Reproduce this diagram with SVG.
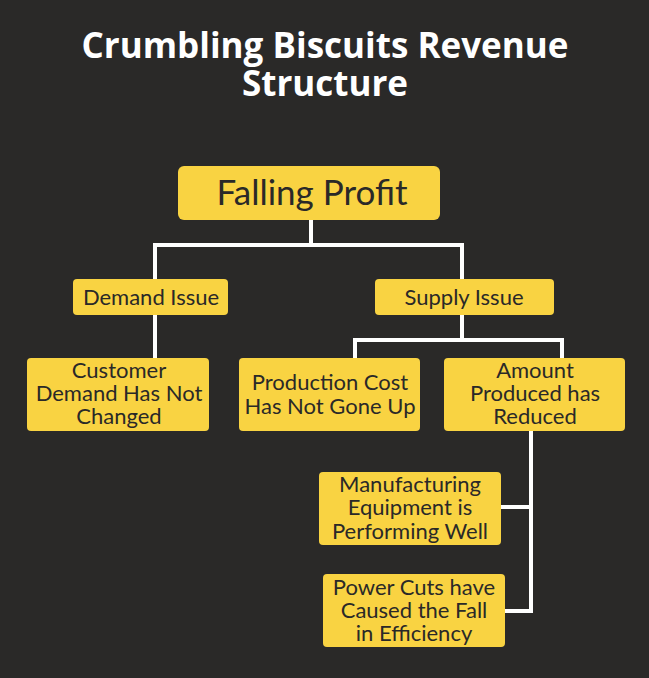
<svg xmlns="http://www.w3.org/2000/svg" width="649" height="678" viewBox="0 0 649 678">
<style>
.bg{fill:#2a2928}
.box{fill:#f9d342}
.t{font-family:"Lato","Open Sans",sans-serif;fill:#2a2928;text-anchor:middle}
.s{font-size:22px}
.title{font-family:"Open Sans","Lato",sans-serif;font-weight:bold;fill:#ffffff;font-size:35px;text-anchor:middle}
.c{stroke:#ffffff;stroke-width:4;fill:none;stroke-linecap:square}
</style>
<rect class="bg" x="0" y="0" width="649" height="678"/>
<g id="title">
<text class="title" x="325" y="58">Crumbling Biscuits Revenue</text>
<text class="title" x="325" y="96">Structure</text>
</g>
<g id="connectors">
<path class="c" d="M311,221 V245 M155,278 V245 H462 V278"/>
<path class="c" d="M155,316 V357"/>
<path class="c" d="M462,316 V340 M355,357 V340 H562 V357"/>
<path class="c" d="M531,432 V611 H506 M530,507 H502"/>
</g>
<g id="falling-profit">
<rect class="box" x="178" y="166" width="262" height="54" rx="6"/>
<text class="t" x="312" y="205" font-size="35">Falling Profit</text>
</g>
<g id="demand-issue">
<rect class="box" x="73" y="279" width="155" height="36" rx="4"/>
<text class="t s" x="151" y="305">Demand Issue</text>
</g>
<g id="supply-issue">
<rect class="box" x="375" y="279" width="179" height="36" rx="4"/>
<text class="t s" x="464" y="305">Supply Issue</text>
</g>
<g id="customer-demand">
<rect class="box" x="27" y="358" width="182" height="73" rx="4"/>
<text class="t s"><tspan x="119" y="378">Customer</tspan><tspan x="119" y="401">Demand Has Not</tspan><tspan x="119" y="424">Changed</tspan></text>
</g>
<g id="production-cost">
<rect class="box" x="239" y="358" width="181" height="73" rx="4"/>
<text class="t s"><tspan x="330" y="390">Production Cost</tspan><tspan x="330" y="414">Has Not Gone Up</tspan></text>
</g>
<g id="amount-produced">
<rect class="box" x="444" y="358" width="181" height="73" rx="4"/>
<text class="t s"><tspan x="535" y="378">Amount</tspan><tspan x="535" y="401">Produced has</tspan><tspan x="535" y="424">Reduced</tspan></text>
</g>
<g id="manufacturing-equipment">
<rect class="box" x="319" y="472" width="182" height="73" rx="4"/>
<text class="t s"><tspan x="410" y="492">Manufacturing</tspan><tspan x="410" y="515">Equipment is</tspan><tspan x="410" y="539">Performing Well</tspan></text>
</g>
<g id="power-cuts">
<rect class="box" x="323" y="574" width="182" height="73" rx="4"/>
<text class="t s"><tspan x="414" y="595">Power Cuts have</tspan><tspan x="414" y="618">Caused the Fall</tspan><tspan x="414" y="641">in Efficiency</tspan></text>
</g>
</svg>
